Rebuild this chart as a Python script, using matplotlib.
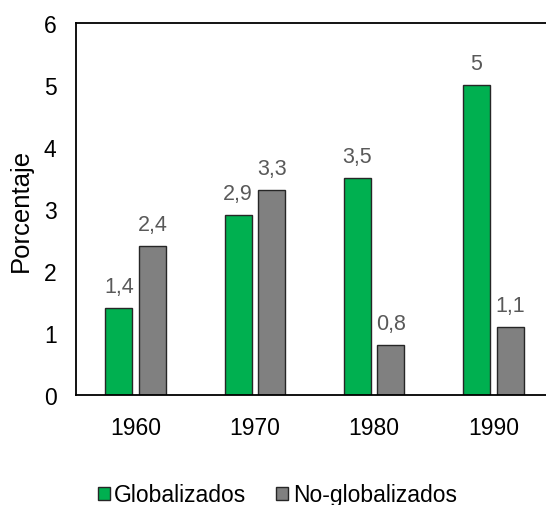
import matplotlib
matplotlib.use("Agg")
import matplotlib.pyplot as plt
import numpy as np

plt.rcParams['font.family'] = ['Liberation Sans', 'DejaVu Sans']

categories = ['1960', '1970', '1980', '1990']
globalizados = [1.4, 2.9, 3.5, 5.0]
no_globalizados = [2.4, 3.3, 0.8, 1.1]
series_names = ['Globalizados', 'No-globalizados']
yticks = [0, 1, 2, 3, 4, 5, 6]

W, H = 546, 506
fig = plt.figure(figsize=(W / 100, H / 100), dpi=100)
left, right, top, bottom = 76, 553, 24, 396
ax = fig.add_axes([left / W, 1 - bottom / H, (right - left) / W, (bottom - top) / H])

x = np.arange(len(categories))
bw = 0.227
off = 0.141
green = '#00B050'
gray = '#808080'
edge = '#262626'
b1 = ax.bar(x - off, globalizados, bw, color=green, edgecolor=edge, linewidth=1.0, label=series_names[0])
b2 = ax.bar(x + off, no_globalizados, bw, color=gray, edgecolor=edge, linewidth=1.0, label=series_names[1])

def fmt(v):
    s = ('%g' % v).replace('.', ',')
    return s

for bars, vals in ((b1, globalizados), (b2, no_globalizados)):
    for r, v in zip(bars, vals):
        ax.annotate(fmt(v), (r.get_x() + r.get_width() / 2, v), xytext=(0, 11.5),
                    textcoords='offset points', ha='center', va='baseline',
                    fontsize=15.5, color='#595959')

ax.set_xlim(-0.5, len(categories) - 0.5)
ax.set_ylim(0, 6)
ax.set_yticks(yticks)
ax.set_xticks(x)
ax.set_xticklabels(categories)
ax.tick_params(axis='both', length=0, labelsize=16.5, colors='black')
ax.tick_params(axis='y', pad=14)
ax.tick_params(axis='x', pad=15)
for s in ['left', 'bottom', 'top']:
    ax.spines[s].set_color('black')
    ax.spines[s].set_linewidth(1.3)
ax.spines['right'].set_visible(False)
ax.set_ylabel('Porcentaje', fontsize=18.5, labelpad=8)

fig.legend(handles=[b1, b2], labels=series_names, loc='center', bbox_to_anchor=(0.508, 1 - 496 / H),
           ncol=2, frameon=False, fontsize=16.5, handlelength=0.52, handleheight=0.52,
           handletextpad=0.2, columnspacing=1.3)

fig.savefig('out.png', dpi=100)
